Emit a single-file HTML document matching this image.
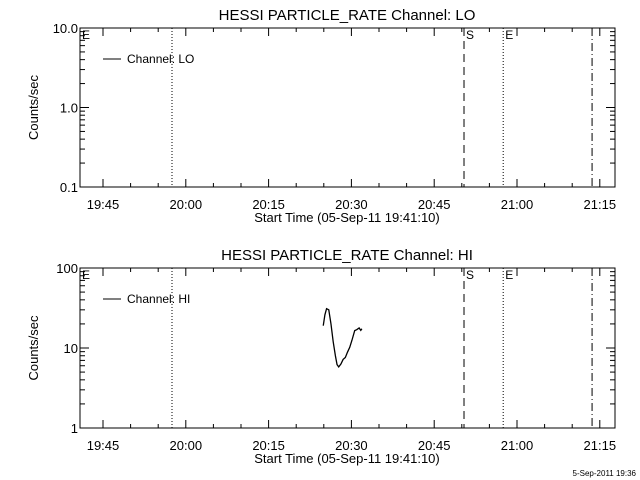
<!DOCTYPE html>
<html><head><meta charset="utf-8"><style>
body{margin:0;background:#fff}
svg{display:block;font-family:"Liberation Sans",sans-serif}
</style></head><body>
<svg id="c" width="640" height="480" viewBox="0 0 640 480"></svg>
<script>
const timeTickLabels=["19:45","20:00","20:15","20:30","20:45","21:00","21:15"];
const timeTickMinutes=[0,15,30,45,60,75,90];
const markerMinutes=[12.5,65.4,72.5,88.6];
const hiMinutes=[39.9,40.2,40.5,40.9,41.3,41.7,42.1,42.4,42.7,43.1,43.5,43.9,44.3,44.7,45.1,45.6,46.0,46.4,46.7,46.9];
const hiValues=[19,26,31,30,20,12,8,6.2,5.8,6.3,7.2,7.6,8.9,10.2,12.5,16.5,17,17.8,16.6,17.4];
const S="http://www.w3.org/2000/svg",svg=document.getElementById('c');
function el(t,a,p){const e=document.createElementNS(S,t);for(const k in a)e.setAttribute(k,a[k]);(p||svg).appendChild(e);return e;}
const L=80,R=615;
const xs=m=>103+m*5.52;
function panel(top,bot,title,leg,decMin,decMax,ylabels,name,dataX,dataY){
  const g=el('g',{});
  
  
  const ys=v=>bot-(Math.log10(v)-decMin)/(decMax-decMin)*(bot-top);
  const t=el('text',{x:347,y:top-8,'text-anchor':'middle','font-size':15},g);t.textContent=title;
  
  const box=el('rect',{x:L,y:top,width:R-L,height:bot-top,fill:'none',stroke:'#000'},g);
  
  for(let m=-5;m<=95;m+=5){const x=xs(m);if(x<L||x>R)continue;const len=m%15===0?8:4;
    el('line',{x1:x,x2:x,y1:bot,y2:bot-len,stroke:'#000'},g);el('line',{x1:x,x2:x,y1:top,y2:top+len,stroke:'#000'},g);}
  timeTickMinutes.forEach((m,i)=>{const tx=el('text',{x:xs(m),y:bot+22,'text-anchor':'middle','font-size':13},g);tx.textContent=timeTickLabels[i];
    });
  const xt=el('text',{x:347,y:bot+35,'text-anchor':'middle','font-size':13},g);xt.textContent="Start Time (05-Sep-11 19:41:10)";
  
  for(let d=decMin;d<decMax;d++){for(let k=1;k<10;k++){const y=ys(k*Math.pow(10,d));const len=k===1?9:5;
    el('line',{x1:L,x2:L+len,y1:y,y2:y,stroke:'#000'},g);el('line',{x1:R,x2:R-len,y1:y,y2:y,stroke:'#000'},g);}}
  ylabels.forEach((lab,i)=>{const yt=el('text',{x:L-2,y:ys(Math.pow(10,decMin+i))+5,'text-anchor':'end','font-size':13},g);yt.textContent=lab;
    });
  const ya=el('text',{x:0,y:0,'text-anchor':'middle','font-size':13,transform:`translate(38,${(top+bot)/2}) rotate(-90)`},g);ya.textContent="Counts/sec";
  
  const dashes=['1,2','8,5','1,2','8,3,1,3'];
  markerMinutes.forEach((m,i)=>{const ln=el('line',{x1:xs(m),x2:xs(m),y1:top,y2:bot,stroke:'#000','stroke-dasharray':dashes[i]},g);
    });
  [['E',L+2],['S',xs(markerMinutes[1])+2],['E',xs(markerMinutes[2])+2]].forEach(a=>{const tx=el('text',{x:a[1],y:top+11,'font-size':12},g);tx.textContent=a[0];
    });
  el('line',{x1:103,x2:121,y1:top+31,y2:top+31,stroke:'#000'},g);
  const lt=el('text',{x:127,y:top+35,'font-size':12},g);lt.textContent=leg;
  
  if(dataX){const p=el('polyline',{points:dataX.map((m,i)=>xs(m)+','+ys(dataY[i])).join(' '),fill:'none',stroke:'#000','stroke-width':1.3},g);
    }
}
panel(28,187,"HESSI PARTICLE_RATE Channel: LO","Channel: LO",-1,1,["0.1","1.0","10.0"],"lo-panel");
panel(268,428,"HESSI PARTICLE_RATE Channel: HI","Channel: HI",0,2,["1","10","100"],"hi-panel",hiMinutes,hiValues);
const ts=el('text',{x:636,y:476,'text-anchor':'end','font-size':8});ts.textContent="5-Sep-2011 19:36";

</script>
</body></html>
